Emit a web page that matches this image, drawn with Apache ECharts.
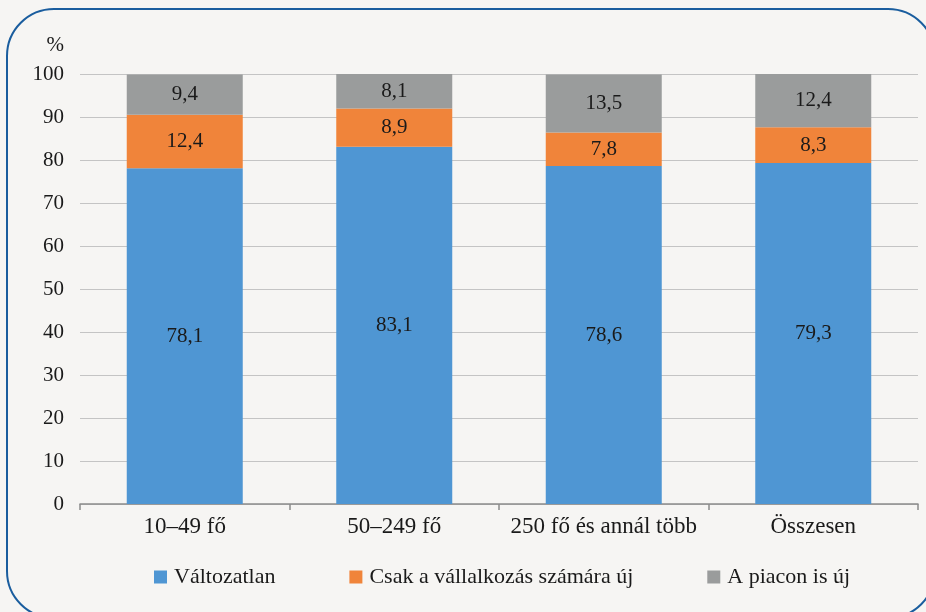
<!DOCTYPE html>
<html>
<head>
<meta charset="utf-8">
<script src="https://cdn.jsdelivr.net/npm/echarts@6/dist/echarts.min.js"></script>
<style>
  html, body { margin: 0; padding: 0; background: #f6f5f3; overflow: hidden; }
  #chart { width: 926px; height: 612px; position: absolute; left: 0; top: 0; }
  #frame {
    position: absolute; left: 6px; top: 8px; width: 926px; height: 607px;
    border: 2.5px solid #1a5d9e; border-radius: 48px; pointer-events: none;
  }
  #warm { position: absolute; left: -999px; top: 0; font: 21px 'Liberation Serif'; }
</style>
</head>
<body>
<div id="warm">78,1 Változatlan</div>
<div id="chart"></div>
<div id="frame"></div>
<script>
// categories and values
var categories = ['10–49 fő', '50–249 fő', '250 fő és annál több', 'Összesen'];
var valtozatlan = [78.1, 83.1, 78.6, 79.3];
var csakVallalkozas = [12.4, 8.9, 7.8, 8.3];
var piaconIs = [9.4, 8.1, 13.5, 12.4];
var yTicks = [0, 10, 20, 30, 40, 50, 60, 70, 80, 90, 100];

var font = 'Liberation Serif';
var fs = 21;

function commaLabel(p) {
  return String(p.value).replace('.', ',');
}

function makeSeries(name, data, color) {
  return {
    name: name,
    type: 'bar',
    stack: 'total',
    data: data,
    barWidth: 116,
    itemStyle: { color: color },
    label: {
      show: true,
      position: 'inside',
      formatter: commaLabel,
      color: '#1a1a1a',
      fontFamily: font,
      fontSize: fs
    }
  };
}

var myChart = echarts.init(document.getElementById('chart'));
var option = {
  backgroundColor: 'transparent',
  animation: false,
  textStyle: { fontFamily: font },
  grid: { left: 80, right: 8, top: 74, bottom: 108 },
  legend: {
    bottom: 24,
    left: 154,
    padding: 0,
    itemWidth: 13,
    itemHeight: 13,
    itemGap: 74,
    icon: 'rect',
    textStyle: { fontFamily: font, fontSize: 22, color: '#1a1a1a', padding: [0, 0, 0, 2] },
    data: ['Változatlan', 'Csak a vállalkozás számára új', 'A piacon is új']
  },
  xAxis: {
    type: 'category',
    data: categories,
    axisLine: { lineStyle: { color: '#8c8c8c', width: 1.5 } },
    axisTick: { show: true, length: 6, lineStyle: { color: '#8c8c8c', width: 1.5 } },
    axisLabel: { interval: 0, color: '#1a1a1a', fontFamily: font, fontSize: 23, margin: 11 }
  },
  yAxis: {
    type: 'value',
    min: yTicks[0],
    max: yTicks[yTicks.length - 1],
    interval: 10,
    name: '%',
    nameLocation: 'end',
    nameGap: 18,
    nameTextStyle: { color: '#1a1a1a', fontFamily: font, fontSize: fs, align: 'right', padding: [0, 16, 0, 0] },
    axisLine: { show: false },
    axisTick: { show: false },
    axisLabel: { color: '#1a1a1a', fontFamily: font, fontSize: fs, margin: 16 },
    splitLine: { lineStyle: { color: '#c4c4c4', width: 1.2 } }
  },
  series: [
    makeSeries('Változatlan', valtozatlan, '#4f96d3'),
    makeSeries('Csak a vállalkozás számára új', csakVallalkozas, '#f0843a'),
    makeSeries('A piacon is új', piaconIs, '#9a9c9c')
  ]
};
myChart.setOption(option);
</script>
</body>
</html>
